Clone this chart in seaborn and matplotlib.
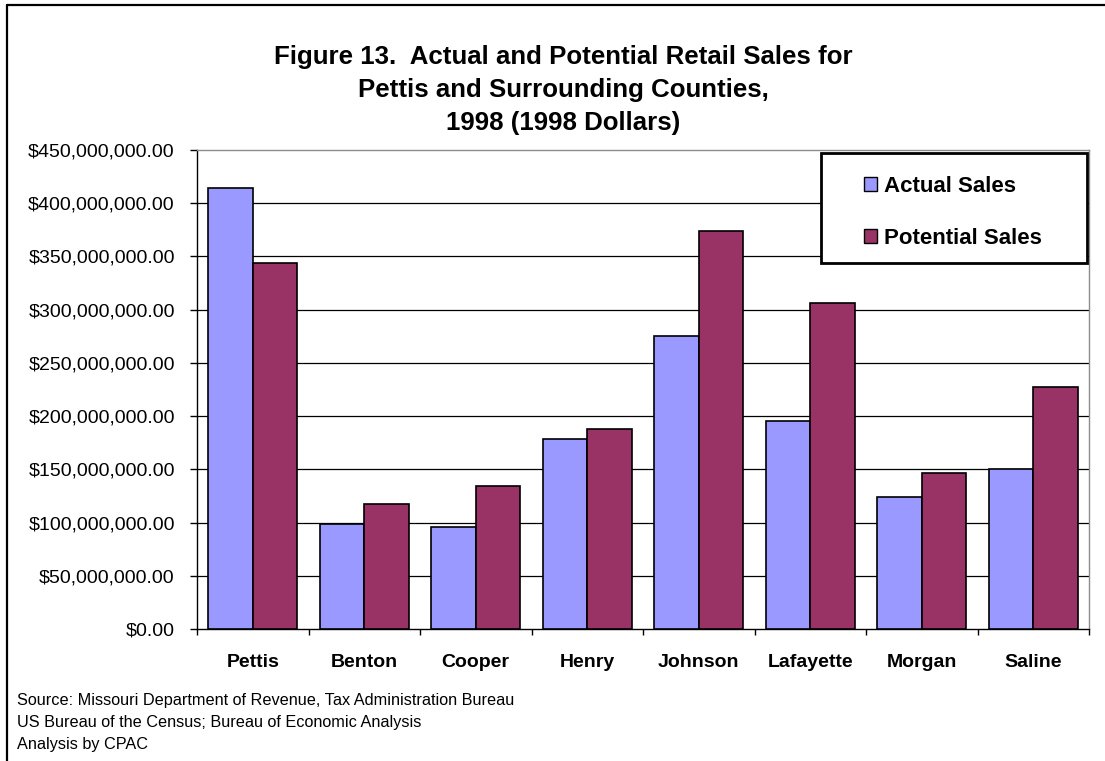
import matplotlib
matplotlib.use("Agg")
import matplotlib.pyplot as plt
import matplotlib.ticker as mticker
from matplotlib.patches import Rectangle
from matplotlib.lines import Line2D
import numpy as np
import pandas as pd
import seaborn as sns

# Retail sales by county, 1998 dollars
counties = ["Pettis", "Benton", "Cooper", "Henry", "Johnson", "Lafayette", "Morgan", "Saline"]
actual_sales = [414_600_000, 98_600_000, 95_800_000, 178_500_000, 275_000_000, 195_100_000, 124_300_000, 150_000_000]
potential_sales = [343_600_000, 117_100_000, 134_100_000, 187_900_000, 373_600_000, 306_600_000, 146_300_000, 227_400_000]
series_names = ["Actual Sales", "Potential Sales"]
series_colors = ["#9999FF", "#993366"]
y_ticks = np.arange(0, 450_000_001, 50_000_000)

df = pd.DataFrame({
    "County": counties * 2,
    "Series": [series_names[0]] * len(counties) + [series_names[1]] * len(counties),
    "Sales": actual_sales + potential_sales,
})

sns.set_style("white")
plt.rcParams["font.family"] = ["Liberation Sans", "DejaVu Sans"]
plt.rcParams["text.color"] = "black"
plt.rcParams["xtick.color"] = "black"
plt.rcParams["ytick.color"] = "black"
plt.rcParams["axes.labelcolor"] = "black"

W, H = 1105, 761
fig = plt.figure(figsize=(W / 100, H / 100), dpi=100)
ax = fig.add_axes([197 / W, 1 - 629 / H, (1089 - 197) / W, (629 - 150) / H])

sns.barplot(data=df, x="County", y="Sales", hue="Series", order=counties,
            hue_order=series_names, palette=series_colors, width=0.8, gap=0,
            edgecolor="black", linewidth=1.2, saturation=1, errorbar=None,
            legend=False, ax=ax, zorder=3)

ax.set_xlim(-0.5, len(counties) - 0.5)
ax.set_ylim(0, 450_000_000)
ax.set_yticks(y_ticks)
ax.yaxis.set_major_formatter(mticker.FuncFormatter(lambda v, p: f"${v:,.2f}"))
ax.set_xlabel("")
ax.set_ylabel("")

# horizontal gridlines, skipping the top one which is the plot border
ax.yaxis.grid(True, color="black", linewidth=0.9, zorder=0)
ax.set_axisbelow(True)
for gl, v in zip(ax.yaxis.get_gridlines(), y_ticks):
    if v >= 450_000_000 or v == 0:
        gl.set_visible(False)

ax.tick_params(axis="y", which="major", direction="out", length=5, width=1,
               color="black", labelcolor="black", labelsize=14, pad=11, left=True)
ax.tick_params(axis="x", which="major", length=0, pad=18, labelsize=14,
               labelcolor="black")
for lbl in ax.get_xticklabels():
    lbl.set_fontweight("bold")
ax.set_xticks(np.arange(-0.5, len(counties), 1.0), minor=True)
ax.tick_params(axis="x", which="minor", direction="out", length=4, width=1,
               color="black", bottom=True)

for side in ["left", "bottom"]:
    ax.spines[side].set_color("black")
    ax.spines[side].set_linewidth(1.0)
for side in ["top", "right"]:
    ax.spines[side].set_visible(True)
    ax.spines[side].set_color("#8c8c8c")
    ax.spines[side].set_linewidth(1.0)

# title
fig.text(563 / W, 1 - 90 / H,
         "Figure 13.  Actual and Potential Retail Sales for\nPettis and Surrounding Counties,\n1998 (1998 Dollars)",
         ha="center", va="center", multialignment="center", fontsize=18.6,
         fontweight="bold", linespacing=1.45, color="black")

# legend box
fig.patches.append(Rectangle((821 / W, 1 - 263 / H), 266 / W, 110 / H,
                             transform=fig.transFigure, facecolor="white",
                             edgecolor="black", linewidth=2.0, zorder=5))
handles = [Rectangle((0, 0), 1, 1, facecolor=c, edgecolor="black", linewidth=1.0)
           for c in series_colors]
leg = fig.legend(handles, series_names, loc="upper left",
                 bbox_to_anchor=(864 / W, 1 - 176 / H), bbox_transform=fig.transFigure,
                 frameon=False, borderpad=0, borderaxespad=0, handlelength=0.6,
                 handleheight=0.6, handletextpad=0.3, labelspacing=1.4,
                 prop={"size": 16, "weight": "bold"})
leg.set_zorder(6)
for t in leg.get_texts():
    t.set_color("black")

# source notes
notes = ["Source: Missouri Department of Revenue, Tax Administration Bureau",
         "US Bureau of the Census; Bureau of Economic Analysis",
         "Analysis by CPAC"]
for i, line in enumerate(notes):
    fig.text(17 / W, 1 - (701 + 21.5 * i) / H, line, ha="left", va="center",
             fontsize=11.7, color="black")

# outer frame lines on the top and left
fig.add_artist(Line2D([7 / W, 1.0], [1 - 5 / H, 1 - 5 / H], transform=fig.transFigure,
                      color="black", linewidth=1.6))
fig.add_artist(Line2D([7 / W, 7 / W], [0, 1 - 5 / H], transform=fig.transFigure,
                      color="black", linewidth=1.6))

fig.savefig("out.png", dpi=100)
